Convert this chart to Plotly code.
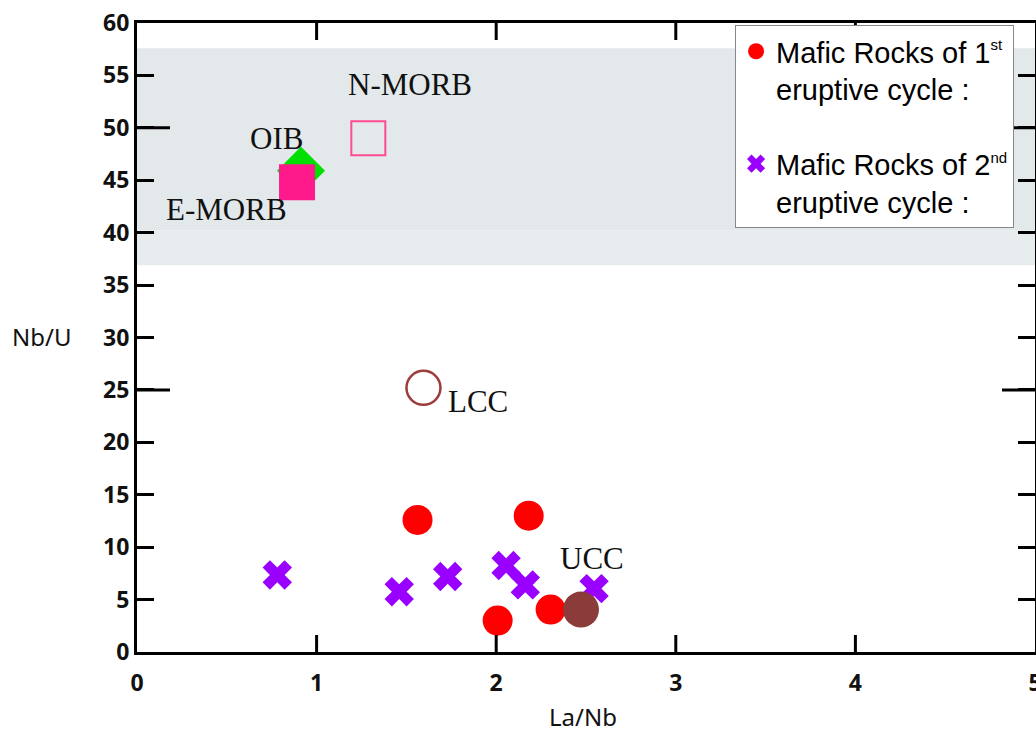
import plotly.graph_objects as go

# Mafic rocks, 1st eruptive cycle
cycle1_la_nb = [1.562, 2.181, 2.008, 2.303]
cycle1_nb_u = [12.6, 13.0, 3.0, 4.05]

# Mafic rocks, 2nd eruptive cycle
cycle2_la_nb = [0.781, 1.460, 1.730, 2.055, 2.162, 2.545]
cycle2_nb_u = [7.35, 5.75, 7.2, 8.25, 6.4, 6.05]

# Reference reservoirs
oib_la_nb, oib_nb_u = [0.913], [45.9]
emorb_la_nb, emorb_nb_u = [0.891], [44.8]
nmorb_la_nb, nmorb_nb_u = [1.288], [49.0]
lcc_la_nb, lcc_nb_u = [1.595], [25.2]
ucc_la_nb, ucc_nb_u = [2.472], [4.05]

# Reservoir labels and where they sit (data units)
ref_labels = ["N-MORB", "OIB", "E-MORB", "LCC", "UCC"]
ref_label_x = [1.52, 0.774, 0.498, 1.899, 2.531]
ref_label_y = [54.1, 49.0, 42.2, 23.9, 8.9]

# MORB-OIB Nb/U field
band_lo, band_mid, band_hi = 36.9, 40.2, 57.6

x_range = [0, 5]
y_range = [0, 60]
x_ticks = [0, 1, 2, 3, 4, 5]
x_inner_ticks = [1, 2, 3, 4]
y_ticks = list(range(0, 61, 5))
y_long_ticks = [25, 50]

fig = go.Figure()

fig.add_trace(go.Scatter(
    x=cycle1_la_nb, y=cycle1_nb_u, mode="markers",
    name="Mafic Rocks of 1<sup><span style='font-size:15px'>st</span></sup><br>eruptive cycle :",
    legendgroup="c1",
    marker=dict(symbol="circle", size=30, color="#ff0000", line=dict(width=0)),
))
fig.add_trace(go.Scatter(
    x=cycle2_la_nb, y=cycle2_nb_u, mode="markers",
    name="Mafic Rocks of 2<sup><span style='font-size:15px'>nd</span></sup><br>eruptive cycle :",
    legendgroup="c2",
    marker=dict(symbol="x", size=26, color="#9900ff", line=dict(width=0)),
))
fig.add_trace(go.Scatter(
    x=oib_la_nb, y=oib_nb_u, mode="markers", showlegend=False,
    marker=dict(symbol="diamond", size=37, color="#00e000", line=dict(width=0)),
))
fig.add_trace(go.Scatter(
    x=emorb_la_nb, y=emorb_nb_u, mode="markers", showlegend=False,
    marker=dict(symbol="square", size=36, color="#ff1a8c", line=dict(width=0)),
))
fig.add_trace(go.Scatter(
    x=nmorb_la_nb, y=nmorb_nb_u, mode="markers", showlegend=False,
    marker=dict(symbol="square-open", size=34, color="#ff4a94", line=dict(width=2)),
))
fig.add_trace(go.Scatter(
    x=lcc_la_nb, y=lcc_nb_u, mode="markers", showlegend=False,
    marker=dict(symbol="circle-open", size=34, color="#9e3b3b", line=dict(width=2.5)),
))
fig.add_trace(go.Scatter(
    x=ucc_la_nb, y=ucc_nb_u, mode="markers", showlegend=False,
    marker=dict(symbol="circle", size=36, color="#8c3b3b", line=dict(width=0)),
))

# inward ticks on the bottom and top frame (17 px tall over a 629 px plot height)
tick_h = 17 * (y_range[1] - y_range[0]) / 629
tx, ty = [], []
for v in x_inner_ticks:
    tx += [v, v, None, v, v, None]
    ty += [y_range[0], y_range[0] + tick_h, None, y_range[1], y_range[1] - tick_h, None]
fig.add_trace(go.Scatter(x=tx, y=ty, mode="lines", showlegend=False, hoverinfo="skip",
                         line=dict(color="black", width=3), cliponaxis=False))

# shaded Nb/U field
fig.add_shape(type="rect", xref="x", yref="y", x0=0, x1=5, y0=band_mid, y1=band_hi,
              fillcolor="#e3e8eb", line=dict(width=0), layer="below")
fig.add_shape(type="rect", xref="x", yref="y", x0=0, x1=5, y0=band_lo, y1=band_mid,
              fillcolor="#e7ecee", line=dict(width=0), layer="below")

tick_line = dict(color="black", width=3)
# longer ticks every 25 units on both vertical sides
for v in y_long_ticks:
    fig.add_shape(type="line", xref="x", yref="y", xsizemode="pixel", xanchor=x_range[0],
                  x0=0, x1=33, y0=v, y1=v, line=tick_line)
    fig.add_shape(type="line", xref="x", yref="y", xsizemode="pixel", xanchor=x_range[1],
                  x0=-33, x1=0, y0=v, y1=v, line=tick_line)

for txt, lx, ly in zip(ref_labels, ref_label_x, ref_label_y):
    fig.add_annotation(x=lx, y=ly, xref="x", yref="y", text=txt, showarrow=False,
                       font=dict(family="Liberation Serif", size=31, color="#111"),
                       xanchor="center", yanchor="middle")

fig.add_annotation(x=-0.106, y=0.501, xref="paper", yref="paper", text="Nb/U",
                   showarrow=False, xanchor="center", yanchor="middle",
                   font=dict(family="Noto Sans", size=24, color="#111"))
fig.add_annotation(x=0.497, y=-0.102, xref="paper", yref="paper", text="La/Nb",
                   showarrow=False, xanchor="center", yanchor="middle",
                   font=dict(family="Noto Sans", size=24, color="#111"))

tick_font = dict(family="Noto Sans", size=23, color="#111", weight="bold")

fig.update_layout(
    width=1036, height=731,
    margin=dict(l=137, r=1, t=23, b=79, autoexpand=False),
    paper_bgcolor="white", plot_bgcolor="white",
    showlegend=True,
    legend=dict(x=0.666, y=0.997, xanchor="left", yanchor="top",
                bgcolor="white", bordercolor="#888", borderwidth=1,
                font=dict(family="Liberation Sans", size=29, color="black"),
                valign="top", tracegroupgap=34, traceorder="grouped",
                itemsizing="trace", entrywidth=330),
    xaxis=dict(range=x_range, tickvals=x_ticks, ticks="outside", ticklen=8,
               tickcolor="rgba(0,0,0,0)", showline=True, linewidth=3,
               linecolor="black", mirror=True, showgrid=False, zeroline=False,
               tickfont=tick_font, ticklabeloverflow="allow", automargin=False),
    yaxis=dict(range=y_range, tickvals=y_ticks, ticks="inside", ticklen=17,
               tickwidth=3, tickcolor="black", showline=True, linewidth=3,
               linecolor="black", mirror="ticks", showgrid=False, zeroline=False,
               tickfont=tick_font, ticksuffix="\u00a0\u00a0", automargin=False),
)

fig.write_html("out.html")
